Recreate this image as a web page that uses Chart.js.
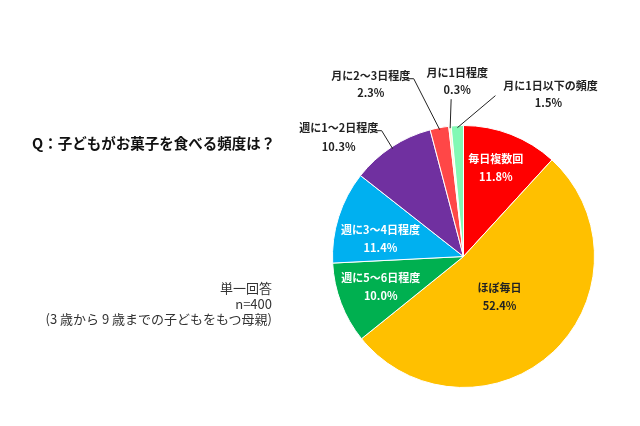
<!DOCTYPE html>
<html lang="ja">
<head>
<meta charset="utf-8">
<script src="https://cdn.jsdelivr.net/npm/chart.js@4.4.1/dist/chart.umd.min.js"></script>
<style>
  html, body { margin: 0; padding: 0; background: #fff; }
  #wrap { position: relative; width: 640px; height: 426px; }
  #MiGrafica { position: absolute; left: 0; top: 0; }
  .txt { position: absolute; font-family: "Noto Sans CJK JP", "Noto Sans", sans-serif; color: #222; white-space: nowrap; }
  #titulo { left: 32px; top: 132px; font-size: 14.5px; font-weight: bold; color: #111; }
  #nota { right: 368px; top: 280px; font-size: 13px; line-height: 15.5px; text-align: right; color: #333; }
</style>
</head>
<body>
<div id="wrap">
  <canvas id="MiGrafica" width="640" height="426"></canvas>
  <div class="txt" id="titulo">Q：子どもがお菓子を食べる頻度は？</div>
  <div class="txt" id="nota">単一回答<br>n=400<br>(3 歳から 9 歳までの子どもをもつ母親)</div>
</div>
<script>
// categorias y porcentajes (en sentido horario desde arriba)
const categorias = ["毎日複数回", "ほぼ毎日", "週に5～6日程度", "週に3～4日程度", "週に1～2日程度", "月に2～3日程度", "月に1日程度", "月に1日以下の頻度"];
const porcentajes = [11.8, 52.4, 10.0, 11.4, 10.3, 2.3, 0.3, 1.5];
const colores = ["#FF0000", "#FFC000", "#00B050", "#00B0F0", "#7030A0", "#FF4747", "#FFF2CC", "#82F9B4"];

// como se pone cada etiqueta: dentro (radio relativo) o fuera con linea
const estilos = [
  { dentro: true, r: 0.73, da: -1.5, color: "#fff" },
  { dentro: true, r: 0.41, da: 1, color: "#222" },
  { dentro: true, r: 0.67, da: 1.5, color: "#fff" },
  { dentro: true, r: 0.65, da: -5, color: "#fff" },
  { dentro: false, codo: [-11, -18, -17, -18], txt: [-54, -21], pct: [-54, -2] },
  { dentro: false, codo: [-26, -51, -32, -51], txt: [-69, -54], pct: [-69, -37] },
  { dentro: false, codo: [1, -29, 1, -29], txt: [7, -55], pct: [7, -38] },
  { dentro: false, codo: [38, -32, 38, -32], txt: [93, -42], pct: [91, -25] }
];

const etiquetas = {
  id: "etiquetas",
  afterDatasetsDraw(chart) {
    const ctx = chart.ctx;
    const arcos = chart.getDatasetMeta(0).data;
    ctx.save();
    ctx.textAlign = "center";
    ctx.textBaseline = "middle";
    ctx.font = "bold 11px 'Noto Sans CJK JP', sans-serif";
    arcos.forEach((arco, i) => {
      const p = arco.getProps(["x", "y", "startAngle", "endAngle", "outerRadius"], true);
      const e = estilos[i];
      const texto = categorias[i];
      const pct = porcentajes[i].toFixed(1) + "%";
      if (e.dentro) {
        const a = (p.startAngle + p.endAngle) / 2 + e.da * Math.PI / 180;
        const cx = p.x + Math.cos(a) * p.outerRadius * e.r;
        const cy = p.y + Math.sin(a) * p.outerRadius * e.r;
        ctx.fillStyle = e.color;
        ctx.fillText(texto, cx, cy - 8);
        ctx.fillText(pct, cx, cy + 10);
      } else {
        const a = (p.startAngle + p.endAngle) / 2;
        const bx = p.x + Math.cos(a) * (p.outerRadius - 2);
        const by = p.y + Math.sin(a) * (p.outerRadius - 2);
        ctx.strokeStyle = "#222";
        ctx.lineWidth = 1;
        ctx.beginPath();
        ctx.moveTo(bx, by);
        ctx.lineTo(bx + e.codo[0], by + e.codo[1]);
        ctx.lineTo(bx + e.codo[2], by + e.codo[3]);
        ctx.stroke();
        ctx.fillStyle = "#222";
        ctx.fillText(texto, bx + e.txt[0], by + e.txt[1]);
        ctx.fillText(pct, bx + e.pct[0], by + e.pct[1]);
      }
    });
    ctx.restore();
  }
};

let miCanvas = document.getElementById("MiGrafica").getContext("2d");

var chart = new Chart(miCanvas, {
  type: "pie",
  data: {
    labels: categorias,
    datasets: [{
      data: porcentajes,
      backgroundColor: colores,
      borderColor: "#ffffff",
      borderWidth: 1,
      hoverOffset: 0
    }]
  },
  options: {
    responsive: false,
    animation: false,
    layout: { padding: { left: 332, right: 45, top: 125, bottom: 38 } },
    plugins: {
      legend: { display: false },
      tooltip: { enabled: false }
    }
  },
  plugins: [etiquetas]
});
</script>
</body>
</html>
